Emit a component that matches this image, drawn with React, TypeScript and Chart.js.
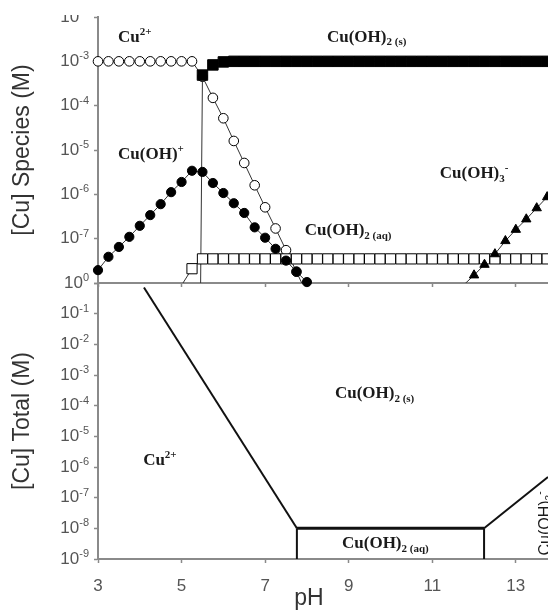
import React, { useEffect, useRef } from 'react';
import { Chart, registerables } from 'chart.js';

Chart.register(...registerables);

// ---------- DATA ----------
// pH grid (step 0.25) used by the species panel
const PH = [
  3, 3.25, 3.5, 3.75, 4, 4.25, 4.5, 4.75, 5, 5.25,
  5.5, 5.75, 6, 6.25, 6.5, 6.75, 7, 7.25, 7.5, 7.75,
  8, 8.25, 8.5, 8.75, 9, 9.25, 9.5, 9.75, 10, 10.25,
  10.5, 10.75, 11, 11.25, 11.5, 11.75, 12, 12.25, 12.5, 12.75,
  13, 13.25, 13.5, 13.75,
];

// Cu2+ (open circles), starts at pH 3
const CU2_START = 3;
const CU2 = [
  1e-3, 1e-3, 1e-3, 1e-3, 1e-3, 1e-3, 1e-3, 1e-3, 1e-3, 1e-3,
  4.5e-4, 1.5e-4, 5.2e-5, 1.6e-5, 5.1e-6, 1.6e-6, 5.1e-7, 1.7e-7, 5.5e-8, 1.8e-8,
  5.6e-9,
];

// Cu(OH)+ (filled circles), starts at pH 3
const CUOH_START = 3;
const CUOH = [
  1.95e-8, 3.9e-8, 6.5e-8, 1.1e-7, 1.95e-7, 3.4e-7, 6.0e-7, 1.12e-6, 1.9e-6, 3.4e-6,
  3.2e-6, 1.8e-6, 1.07e-6, 6.3e-7, 3.8e-7, 1.8e-7, 1.05e-7, 5.9e-8, 3.2e-8, 1.8e-8,
  1.05e-8, 5.6e-9,
];

// Cu(OH)2(s) (filled squares), starts at pH 5.25 (first value: no solid, far below scale)
const CUOH2S_START = 5.25;
const CUOH2S = [
  1e-30, 4.9e-4, 8.3e-4, 9.7e-4,
  1e-3, 1e-3, 1e-3, 1e-3, 1e-3, 1e-3, 1e-3, 1e-3, 1e-3, 1e-3,
  1e-3, 1e-3, 1e-3, 1e-3, 1e-3, 1e-3, 1e-3, 1e-3, 1e-3, 1e-3,
  1e-3, 1e-3, 1e-3, 1e-3, 1e-3, 1e-3, 1e-3, 1e-3, 1e-3, 1e-3,
  1e-3,
];

// Cu(OH)2(aq) (open squares), starts at pH 5.0
const CUOH2AQ_START = 5;
const CUOH2AQ = [
  8.9e-9, 2.1e-8,
  3.5e-8, 3.5e-8, 3.5e-8, 3.5e-8, 3.5e-8, 3.5e-8, 3.5e-8, 3.5e-8, 3.5e-8, 3.5e-8,
  3.5e-8, 3.5e-8, 3.5e-8, 3.5e-8, 3.5e-8, 3.5e-8, 3.5e-8, 3.5e-8, 3.5e-8, 3.5e-8,
  3.5e-8, 3.5e-8, 3.5e-8, 3.5e-8, 3.5e-8, 3.5e-8, 3.5e-8, 3.5e-8, 3.5e-8, 3.5e-8,
  3.5e-8, 3.5e-8, 3.5e-8, 3.5e-8,
];

// Cu(OH)3- (filled triangles), starts at pH 11.75
const CUOH3_START = 11.75;
const CUOH3 = [9e-9, 1.5e-8, 2.6e-8, 4.5e-8, 8.9e-8, 1.6e-7, 2.75e-7, 4.9e-7, 8.7e-7];

// Total solubility boundary (bottom panel)
const TOTAL_PH = [4.1, 7.76, 12.24, 13.77];
const TOTAL_CU = [0.71, 1e-8, 1e-8, 4.7e-7];
const BOX_LEFT_PH = [7.76, 7.76];
const BOX_RIGHT_PH = [12.24, 12.24];
const BOX_CU = [1e-8, 1e-9];

// Axes / ticks
const X_MIN = 3;
const X_MAX = 13.77;
const X_TICKS = [3, 5, 7, 9, 11, 13];
const TOP_Y_MIN = 1e-8;
const TOP_Y_MAX = 1e-2;
const TOP_Y_TICKS = [1e-2, 1e-3, 1e-4, 1e-5, 1e-6, 1e-7, 1e-8];
const TOP_Y_EXP = ['-2', '-3', '-4', '-5', '-6', '-7', ''];
const BOT_Y_MIN = 1e-9;
const BOT_Y_MAX = 1;
const BOT_Y_TICKS = [1, 1e-1, 1e-2, 1e-3, 1e-4, 1e-5, 1e-6, 1e-7, 1e-8, 1e-9];
const BOT_Y_EXP = ['0', '-1', '-2', '-3', '-4', '-5', '-6', '-7', '-8', '-9'];
const TICK_BASE = '10';

const TOP_Y_TITLE = '[Cu] Species (M)';
const BOT_Y_TITLE = '[Cu] Total (M)';
const X_TITLE = 'pH';
const X_TITLE_AT = 8.05;

// Region labels: segments [text, kind] kind n=normal, b=subscript, p=superscript
type Seg = [string, 'n' | 'b' | 'p'];
type Annot = { segs: Seg[]; x: number; y: number; rot?: boolean; sans?: boolean };

const TOP_ANNOTS: Annot[] = [
  { segs: [['Cu', 'n'], ['2+', 'p']], x: 3.48, y: 3.4e-3 },
  { segs: [['Cu(OH)', 'n'], ['2 (s)', 'b']], x: 8.48, y: 3.5e-3 },
  { segs: [['Cu(OH)', 'n'], ['+', 'p']], x: 3.48, y: 7.8e-6 },
  { segs: [['Cu(OH)', 'n'], ['2 (aq)', 'b']], x: 7.95, y: 1.5e-7 },
  { segs: [['Cu(OH)', 'n'], ['3', 'b'], ['-', 'p']], x: 11.18, y: 2.9e-6 },
];

const BOT_ANNOTS: Annot[] = [
  { segs: [['Cu(OH)', 'n'], ['2 (s)', 'b']], x: 8.67, y: 2.4e-4 },
  { segs: [['Cu', 'n'], ['2+', 'p']], x: 4.08, y: 1.6e-6 },
  { segs: [['Cu(OH)', 'n'], ['2 (aq)', 'b']], x: 8.84, y: 3.1e-9 },
  { segs: [['Cu(OH)', 'n'], ['3', 'b'], ['-', 'p']], x: 13.72, y: 1.3e-9, rot: true, sans: true },
];

// ---------- STYLE ----------
const SANS = '"Liberation Sans", Arial, Helvetica, sans-serif';
const SERIF = '"Liberation Serif", "Times New Roman", Times, serif';
const AXIS_GRAY = '#8a8a8a';

const TOP_SERIES = [
  { start: CU2_START, values: CU2, style: 'circle', radius: 4.8, fill: '#ffffff', order: 5 },
  { start: CUOH2AQ_START, values: CUOH2AQ, style: 'rect', radius: 7.2, fill: '#ffffff', order: 4 },
  { start: CUOH_START, values: CUOH, style: 'circle', radius: 4.6, fill: '#000000', order: 3 },
  { start: CUOH2S_START, values: CUOH2S, style: 'rect', radius: 7.4, fill: '#000000', order: 2 },
  { start: CUOH3_START, values: CUOH3, style: 'triangle', radius: 5.4, fill: '#000000', order: 1 },
];

function drawRich(ctx: CanvasRenderingContext2D, segs: Seg[], family: string, size: number, weight: string) {
  let cx = 0;
  for (const [t, k] of segs) {
    const s = k === 'n' ? size : Math.round(size * 0.64);
    ctx.font = `${weight} ${s}px ${family}`;
    const dy = k === 'b' ? size * 0.3 : k === 'p' ? -size * 0.33 : 0;
    ctx.fillText(t, cx, dy);
    cx += ctx.measureText(t).width;
  }
}

function annotPlugin(items: Annot[], ticks: number[], exps: string[], xTitle?: string) {
  return {
    id: 'annot',
    afterDraw(chart: any) {
      const ctx: CanvasRenderingContext2D = chart.ctx;
      const xs = chart.scales.x;
      const ys = chart.scales.y;
      const area = chart.chartArea;
      ctx.save();
      // y tick labels "10" with raised exponent
      ctx.fillStyle = '#555';
      ctx.textAlign = 'right';
      ctx.textBaseline = 'middle';
      const right = area.left - 9;
      ticks.forEach((v, i) => {
        const e = exps[i];
        if (!e) return;
        const py = ys.getPixelForValue(v);
        ctx.font = `11px ${SANS}`;
        const ew = ctx.measureText(e).width;
        ctx.fillText(e, right, py - 5);
        ctx.font = `17px ${SANS}`;
        ctx.fillText(TICK_BASE, right - ew, py);
      });

      ctx.fillStyle = '#1a1a1a';
      ctx.textBaseline = 'middle';
      ctx.textAlign = 'left';
      for (const a of items) {
        const px = xs.getPixelForValue(a.x);
        const py = ys.getPixelForValue(a.y);
        ctx.save();
        ctx.translate(px, py);
        if (a.rot) ctx.rotate(-Math.PI / 2);
        if (a.sans) drawRich(ctx, a.segs, SANS, 16, 'normal');
        else drawRich(ctx, a.segs, SERIF, 17, 'bold');
        ctx.restore();
      }
      if (xTitle) {
        ctx.font = `23px ${SANS}`;
        ctx.fillStyle = '#333';
        ctx.textAlign = 'center';
        ctx.textBaseline = 'alphabetic';
        ctx.fillText(xTitle, xs.getPixelForValue(X_TITLE_AT), area.bottom + 46);
      }
      ctx.restore();
    },
  };
}

function xScale(showLabels: boolean, height: number): any {
  return {
    type: 'linear',
    min: X_MIN,
    max: X_MAX,
    afterBuildTicks: (s: any) => {
      s.ticks = X_TICKS.map((v) => ({ value: v }));
    },
    ticks: {
      display: showLabels,
      font: { family: SANS, size: 17 },
      color: '#555',
      padding: 13,
      maxRotation: 0,
      autoSkip: false,
    },
    grid: { drawOnChartArea: false, drawTicks: true, tickLength: 4, tickColor: AXIS_GRAY, tickWidth: 1.5 },
    border: { display: true, color: AXIS_GRAY, width: 2 },
    afterFit: (s: any) => {
      s.height = height;
      s.paddingLeft = 0;
      s.paddingRight = 0;
    },
  };
}

function yScale(min: number, max: number, ticks: number[], title: string): any {
  return {
    type: 'logarithmic',
    min,
    max,
    afterBuildTicks: (s: any) => {
      s.ticks = ticks.map((v) => ({ value: v }));
    },
    ticks: { display: false, autoSkip: false },
    grid: { drawOnChartArea: false, drawTicks: true, tickLength: 4, tickColor: AXIS_GRAY, tickWidth: 1.5 },
    border: { display: true, color: AXIS_GRAY, width: 2 },
    title: { display: true, text: title, font: { family: SANS, size: 23 }, color: '#333', padding: { top: 9, bottom: 0 } },
    afterFit: (s: any) => {
      s.width = 98;
      s.paddingTop = 0;
      s.paddingBottom = 0;
    },
  };
}

function topConfig(): any {
  const datasets: any[] = [];
  TOP_SERIES.forEach((s) => {
    const start = PH.indexOf(s.start);
    const pts = s.values.map((v, i) => ({ x: PH[start + i], y: v }));
    datasets.push({
      data: pts,
      showLine: true,
      pointRadius: 0,
      borderColor: '#333',
      borderWidth: 1,
      order: 50,
      clip: 0,
    });
    datasets.push({
      data: pts.filter((p) => p.y >= TOP_Y_MIN),
      showLine: false,
      pointStyle: s.style,
      pointRadius: s.radius,
      pointBackgroundColor: s.fill,
      pointBorderColor: '#000',
      pointBorderWidth: 1,
      order: s.order,
      clip: false,
    });
  });
  return {
    type: 'scatter',
    data: { datasets },
    options: {
      responsive: false,
      animation: false,
      events: [],
      layout: { padding: { top: 2, left: 0, right: 0, bottom: 0 }, autoPadding: false },
      plugins: { legend: { display: false }, tooltip: { enabled: false } },
      scales: {
        x: xScale(false, 11),
        y: yScale(TOP_Y_MIN, TOP_Y_MAX, TOP_Y_TICKS, TOP_Y_TITLE),
      },
    },
    plugins: [annotPlugin(TOP_ANNOTS, TOP_Y_TICKS, TOP_Y_EXP)],
  };
}

function botConfig(): any {
  const line = (xs: number[], ys: number[]) => xs.map((x, i) => ({ x, y: ys[i] }));
  const datasets: any[] = [
    {
      data: line(TOTAL_PH, TOTAL_CU),
      showLine: true,
      pointRadius: 0,
      borderColor: '#111',
      borderWidth: 2,
      segment: { borderWidth: (c: any) => (c.p0DataIndex === 1 ? 3 : 2) },
      clip: 0,
    },
    { data: line(BOX_LEFT_PH, BOX_CU), showLine: true, pointRadius: 0, borderColor: '#111', borderWidth: 2, clip: 0 },
    { data: line(BOX_RIGHT_PH, BOX_CU), showLine: true, pointRadius: 0, borderColor: '#111', borderWidth: 2, clip: 0 },
  ];
  return {
    type: 'scatter',
    data: { datasets },
    options: {
      responsive: false,
      animation: false,
      events: [],
      layout: { padding: { top: 13, left: 0, right: 0, bottom: 0 }, autoPadding: false },
      plugins: { legend: { display: false }, tooltip: { enabled: false } },
      scales: {
        x: xScale(true, 51),
        y: yScale(BOT_Y_MIN, BOT_Y_MAX, BOT_Y_TICKS, BOT_Y_TITLE),
      },
    },
    plugins: [annotPlugin(BOT_ANNOTS, BOT_Y_TICKS, BOT_Y_EXP, X_TITLE)],
  };
}

export default function App() {
  const topRef = useRef<HTMLCanvasElement>(null);
  const botRef = useRef<HTMLCanvasElement>(null);
  useEffect(() => {
    const top = new Chart(topRef.current as HTMLCanvasElement, topConfig());
    const bot = new Chart(botRef.current as HTMLCanvasElement, botConfig());
    return () => {
      top.destroy();
      bot.destroy();
    };
  }, []);
  return (
    <div style={{ position: 'absolute', left: 0, top: 0, width: 548, height: 610, background: '#fff', overflow: 'hidden' }}>
      <canvas ref={botRef} width={548} height={340} style={{ position: 'absolute', left: 0, top: 270 }} />
      <canvas ref={topRef} width={548} height={279} style={{ position: 'absolute', left: 0, top: 15 }} />
    </div>
  );
}
